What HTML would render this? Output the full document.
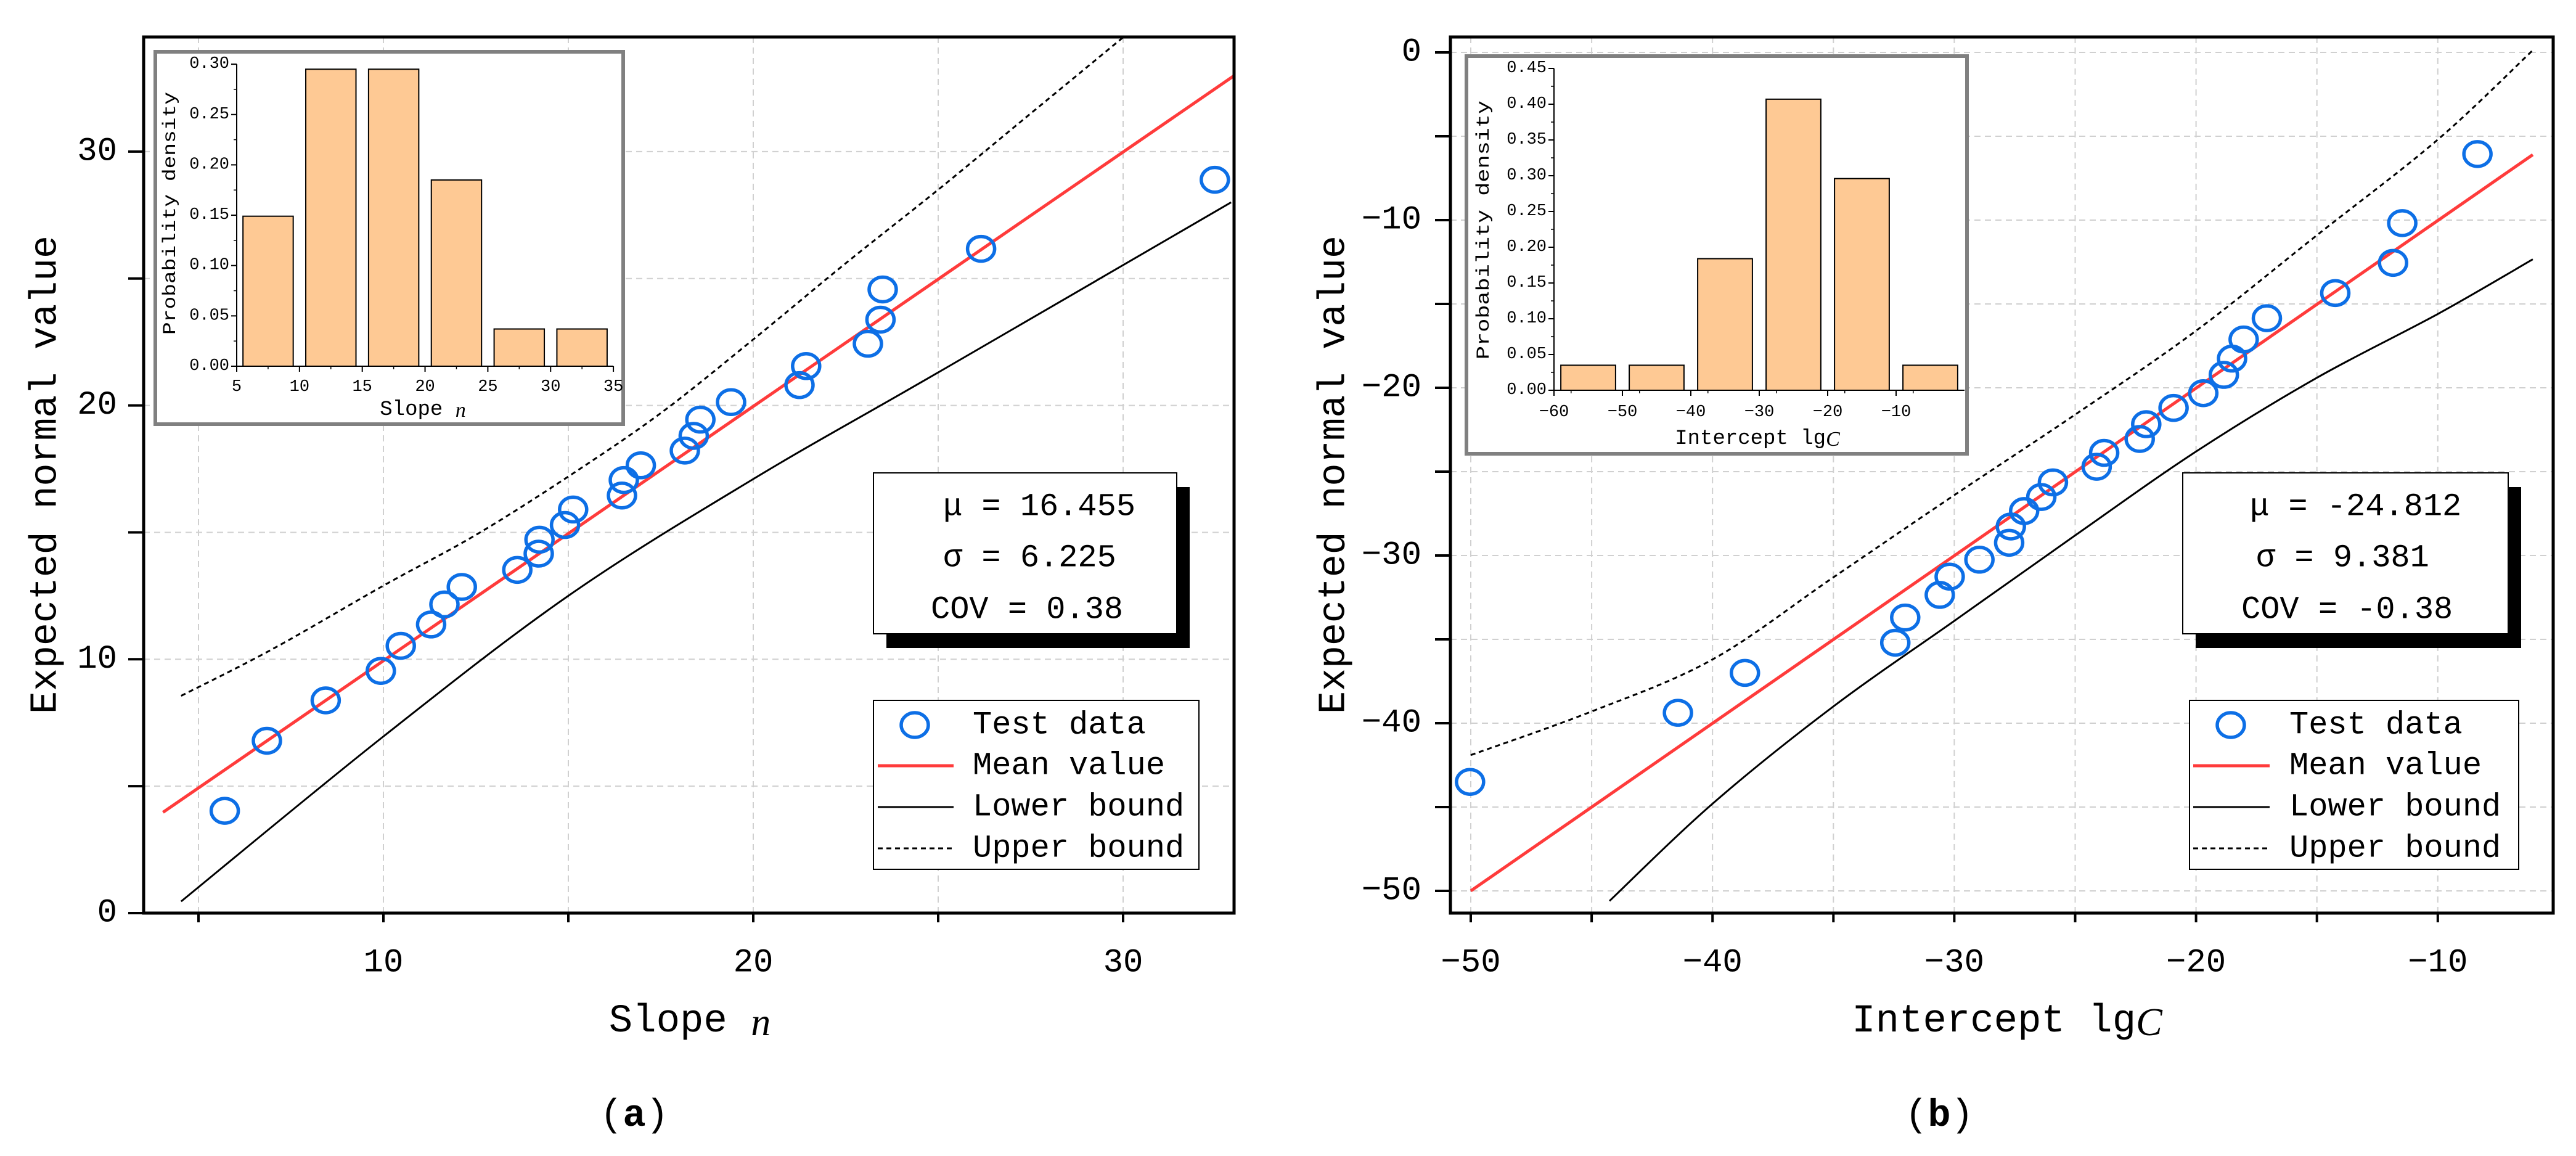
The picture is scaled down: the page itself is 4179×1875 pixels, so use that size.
<!DOCTYPE html>
<html><head><meta charset="utf-8"><style>
html,body{margin:0;padding:0;background:#fff;}
svg{display:block;}
text{font-family:"Liberation Mono",monospace;fill:#000;}
</style></head><body>
<svg id="fig" width="4179" height="1875" viewBox="0 0 4179 1875" xmlns="http://www.w3.org/2000/svg"></svg>
<script>
// ---------- Panel (a) data ----------
const aTestX = [5.71,6.85,8.44,9.93,10.47,11.29,11.65,12.12,13.62,14.20,14.22,14.91,15.13,16.45,16.50,16.96,18.15,18.39,18.57,19.40,21.25,21.43,23.10,23.44,23.50,26.16,32.48];
const aTestY = [4.03,6.79,8.38,9.54,10.53,11.37,12.16,12.85,13.52,14.16,14.71,15.29,15.90,16.45,17.06,17.64,18.22,18.80,19.44,20.13,20.80,21.55,22.43,23.38,24.57,26.17,28.89];
const aMeanX = [4.04,32.99];
const aMeanY = [3.97,32.98];
const aLowX = [4.53,10,15,20,25,32.92];
const aLowY = [0.46,6.96,12.5,17.1,21.3,28.0];
const aUpX = [4.53,7,10,12.5,15,17.5,20,22.5,25,27.5,30];
const aUpY = [8.56,10.4,12.9,14.9,17.2,19.7,22.6,25.6,28.5,31.5,34.5];
const aHistEdges = [5,10,15,20,25,30,35];
const aHistVals = [0.149,0.295,0.295,0.185,0.037,0.037];
const aXTicks = [10,20,30];
const aYTicks = [0,10,20,30];
const aHistYTicks = ["0.00","0.05","0.10","0.15","0.20","0.25","0.30"];
const aHistXTicks = [5,10,15,20,25,30,35];
const aStats = ["μ = 16.455","σ = 6.225","COV = 0.38"];

// ---------- Panel (b) data ----------
const bTestX = [-50.03,-41.43,-38.66,-32.44,-32.03,-30.60,-30.19,-28.96,-27.73,-27.66,-27.11,-26.40,-25.92,-24.11,-23.80,-22.33,-22.06,-20.93,-19.70,-18.85,-18.51,-18.03,-17.07,-14.24,-11.85,-11.47,-8.36];
const bTestY = [-43.5,-39.38,-37.0,-35.2,-33.7,-32.35,-31.26,-30.25,-29.24,-28.27,-27.35,-26.51,-25.64,-24.71,-23.88,-23.05,-22.17,-21.20,-20.32,-19.23,-18.26,-17.12,-15.85,-14.35,-12.55,-10.18,-6.06];
const bMeanX = [-50,-6.07];
const bMeanY = [-50,-6.1];
const bLowX = [-44.26,-40,-35,-30,-25,-20,-15,-10,-6.07];
const bLowY = [-50.6,-44.8,-39.0,-33.9,-28.8,-23.8,-19.4,-15.6,-12.34];
const bUpX = [-50,-45,-40,-35,-30,-25,-20,-15,-10,-6.07];
const bUpY = [-41.9,-39.3,-36.2,-31.3,-26.4,-21.6,-16.6,-10.9,-5.2,0.13];
const bHistEdges = [-60,-50,-40,-30,-20,-10,0];
const bHistVals = [0.035,0.035,0.184,0.407,0.296,0.035];
const bXTicks = [-50,-40,-30,-20,-10];
const bYTicks = [0,-10,-20,-30,-40,-50];
const bHistYTicks = ["0.00","0.05","0.10","0.15","0.20","0.25","0.30","0.35","0.40","0.45"];
const bHistXTicks = [-60,-50,-40,-30,-20,-10];
const bStats = ["μ = -24.812","σ = 9.381","COV = -0.38"];

const NS = "http://www.w3.org/2000/svg";
const svg = document.getElementById('fig');
function mk(tag, attrs, parent){
  const e = document.createElementNS(NS, tag);
  for (const k in attrs) e.setAttribute(k, attrs[k]);
  (parent||svg).appendChild(e);
  return e;
}
function txt(s, x, y, size, anchor, parent, extra){
  const t = mk('text', Object.assign({x:x, y:y, 'font-size':size, 'text-anchor':anchor||'middle', 'dominant-baseline':'central'}, extra||{}), parent);
  t.textContent = s;
  return t;
}
function smoothPath(pts){
  let d = 'M' + pts[0][0].toFixed(1) + ',' + pts[0][1].toFixed(1);
  for (let i = 0; i < pts.length - 1; i++) {
    const p0 = pts[Math.max(0,i-1)], p1 = pts[i], p2 = pts[i+1], p3 = pts[Math.min(pts.length-1,i+2)];
    const c1x = p1[0] + (p2[0]-p0[0])/6, c1y = p1[1] + (p2[1]-p0[1])/6;
    const c2x = p2[0] - (p3[0]-p1[0])/6, c2y = p2[1] - (p3[1]-p1[1])/6;
    d += ' C' + c1x.toFixed(1)+','+c1y.toFixed(1)+' '+c2x.toFixed(1)+','+c2y.toFixed(1)+' '+p2[0].toFixed(1)+','+p2[1].toFixed(1);
  }
  return d;
}

function panel(P){
  const g = mk('g', {});
  
  
  const xs = v => P.x0px + (v - P.x0v) * P.xk;
  const ys = v => P.y0px - (v - P.y0v) * P.yk;
  const grid = mk('g', {}, g);
  
  
  for (let v = P.gx[0]; v <= P.gx[1]; v += 5) {
    mk('line', {x1:xs(v), x2:xs(v), y1:P.fy1, y2:P.fy2, stroke:'#d0d0d0', 'stroke-width':2, 'stroke-dasharray':'10,7'}, grid);
  }
  for (let v = P.gy[0]; v <= P.gy[1]; v += 5) {
    mk('line', {x1:P.fx1, x2:P.fx2, y1:ys(v), y2:ys(v), stroke:'#d0d0d0', 'stroke-width':2, 'stroke-dasharray':'10,7'}, grid);
  }
  const cid = P.name + '-clip';
  const cp = mk('clipPath', {id:cid}, g);
  mk('rect', {x:P.fx1, y:P.fy1, width:P.fx2-P.fx1, height:P.fy2-P.fy1}, cp);
  const series = mk('g', {'clip-path':'url(#'+cid+')'}, g);
  const pts = (X, Y) => X.map((v,i)=>[xs(v), ys(Y[i])]);
  const up = mk('path', {d:smoothPath(pts(P.upX,P.upY)), fill:'none', stroke:'#000', 'stroke-width':3, 'stroke-dasharray':'8,6'}, series);
  
  
  const lo = mk('path', {d:smoothPath(pts(P.lowX,P.lowY)), fill:'none', stroke:'#000', 'stroke-width':3}, series);
  
  
  const me = mk('path', {d:smoothPath(pts(P.meanX,P.meanY)), fill:'none', stroke:'#ff3b3b', 'stroke-width':5}, series);
  
  
  P.testX.forEach((v,i)=>{
    const c = mk('ellipse', {cx:xs(v), cy:ys(P.testY[i]), rx:22, ry:20, fill:'none', stroke:'#0d6fe6', 'stroke-width':5.5}, series);
    
    
  });
  const fr = mk('rect', {x:P.fx1, y:P.fy1, width:P.fx2-P.fx1, height:P.fy2-P.fy1, fill:'none', stroke:'#000', 'stroke-width':5}, g);
  
  
  for (let v = P.gx[0]; v <= P.gx[1]; v += 5) mk('line', {x1:xs(v), x2:xs(v), y1:P.fy2, y2:P.fy2+15, stroke:'#000', 'stroke-width':4}, g);
  for (let v = P.gy[0]-5; v <= P.gy[1]; v += 5) { if (ys(v) <= P.fy2+1 && ys(v) >= P.fy1) mk('line', {x1:P.fx1-25, x2:P.fx1, y1:ys(v), y2:ys(v), stroke:'#000', 'stroke-width':4}, g); }
  P.xTicks.forEach(v=>{
    const t = txt(String(v).replace('-','−'), xs(v), 1562, 54, 'middle', g);
    
    
  });
  P.yTicks.forEach(v=>{
    const t = txt(String(v).replace('-','−'), P.ylabRight, ys(v), 54, 'end', g);
    
    
  });
  const yt = txt('Expected normal value', 0, 0, 62, 'middle', g, {transform:'translate('+P.ytX+',770) rotate(-90)', textLength:776, lengthAdjust:'spacingAndGlyphs'});
  
  
  const xt = mk('text', {x:P.xtX, y:1657, 'font-size':64, 'text-anchor':'middle', 'dominant-baseline':'central'}, g);
  
  
  xt.appendChild(document.createTextNode(P.xtitle));
  const it = mk('tspan', {'font-style':'italic', 'font-family':'Liberation Serif, serif'}, xt);
  it.textContent = P.xitalic;
  const pt = mk('text', {x:P.capX, y:1809, 'font-size':62, 'text-anchor':'middle', 'dominant-baseline':'central', 'font-family':'Liberation Serif, serif'}, g);
  
  
  pt.appendChild(document.createTextNode('('));
  const bt = mk('tspan', {'font-weight':'bold'}, pt); bt.textContent = P.cap;
  pt.appendChild(document.createTextNode(')'));

  const sb = mk('g', {}, g);
  
  
  const S = P.stats;
  mk('rect', {x:S.x1+21, y:S.y1+23, width:S.x2-S.x1, height:S.y2-S.y1, fill:'#000'}, sb);
  mk('rect', {x:S.x1, y:S.y1, width:S.x2-S.x1, height:S.y2-S.y1, fill:'#fff', stroke:'#000', 'stroke-width':2}, sb);
  [822,905,989].forEach((y,i)=>{ const t = txt(P.statText[i], S.tx[i], y, 52, 'start', sb);   });

  const L = P.leg;
  const lg = mk('g', {}, g);
  
  
  mk('rect', {x:L.x1, y:1136, width:L.x2-L.x1, height:274, fill:'#fff', stroke:'#000', 'stroke-width':2}, lg);
  const rows = [1176,1242,1309,1376];
  const names = ['Test data','Mean value','Lower bound','Upper bound'];
  names.forEach((n,i)=>{
    const e = mk('g', {}, lg);
    
    
    if (i===0) mk('ellipse', {cx:L.mx, cy:rows[0], rx:22, ry:20, fill:'none', stroke:'#0d6fe6', 'stroke-width':5.5}, e);
    if (i===1) mk('line', {x1:L.l1, x2:L.l2, y1:rows[1], y2:rows[1], stroke:'#ff3b3b', 'stroke-width':5}, e);
    if (i===2) mk('line', {x1:L.l1, x2:L.l2, y1:rows[2], y2:rows[2], stroke:'#000', 'stroke-width':3}, e);
    if (i===3) mk('line', {x1:L.l1, x2:L.l2, y1:rows[3], y2:rows[3], stroke:'#000', 'stroke-width':3, 'stroke-dasharray':'8,6'}, e);
    txt(n, L.tx, rows[i], 52, 'start', e);
  });

  const H = P.hist;
  const ig = mk('g', {}, g);
  
  
  mk('rect', {x:H.bx1, y:H.by1, width:H.bx2-H.bx1, height:H.by2-H.by1, fill:'#fff', stroke:'#808080', 'stroke-width':6}, ig);
  const hx = v => H.ax0 + (v - H.xv0) * H.xk;
  const hy = v => H.ay0 - v * H.yk;
  P.histVals.forEach((v,i)=>{
    const a = P.histEdges[i], b = P.histEdges[i+1], w = b - a;
    const r = mk('rect', {x:hx(a+w*0.1), y:hy(v), width:(hx(b)-hx(a))*0.8, height:hy(0)-hy(v), fill:'#fec994', stroke:'#000', 'stroke-width':2}, ig);
    
    
  });
  const xLast = P.histEdges[P.histEdges.length-1];
  const xEnd = hx(xLast);
  mk('line', {x1:H.ax0, x2:xEnd, y1:hy(0), y2:hy(0), stroke:'#000', 'stroke-width':2}, ig);
  const yTop = hy(parseFloat(P.histYTicks[P.histYTicks.length-1]));
  mk('line', {x1:H.ax0, x2:H.ax0, y1:hy(0), y2:yTop, stroke:'#000', 'stroke-width':2}, ig);
  P.histYTicks.forEach((s,i)=>{
    const v = parseFloat(s);
    mk('line', {x1:H.ax0-9, x2:H.ax0, y1:hy(v), y2:hy(v), stroke:'#000', 'stroke-width':2}, ig);
    if (i < P.histYTicks.length-1) mk('line', {x1:H.ax0-5, x2:H.ax0, y1:hy(v+0.025), y2:hy(v+0.025), stroke:'#000', 'stroke-width':1.5}, ig);
    txt(s, H.ax0-12, hy(v), 27, 'end', ig);
  });
  P.histXTicks.forEach(v=>{
    mk('line', {x1:hx(v), x2:hx(v), y1:hy(0), y2:hy(0)+9, stroke:'#000', 'stroke-width':2}, ig);
    if (v + 2.5 < xLast) mk('line', {x1:hx(v+2.5), x2:hx(v+2.5), y1:hy(0), y2:hy(0)+5, stroke:'#000', 'stroke-width':1.5}, ig);
    txt(String(v).replace('-','−'), hx(v), H.xlabY, 27, 'middle', ig);
  });
  const hxT = mk('text', {x:H.xtX, y:H.xtY, 'font-size':34, 'text-anchor':'middle', 'dominant-baseline':'central'}, ig);
  hxT.appendChild(document.createTextNode(P.xtitle));
  const hi = mk('tspan', {'font-style':'italic', 'font-family':'Liberation Serif, serif'}, hxT); hi.textContent = P.xitalic;
  txt('Probability density', 0, 0, 30, 'middle', ig, {transform:'translate('+H.ytX+','+H.ytY+') rotate(-90)', textLength:H.ytLen, lengthAdjust:'spacingAndGlyphs'});
}

panel({name:'panel-a-slope', x0px:622, x0v:10, xk:60, y0px:1481, y0v:0, yk:41.17,
  fx1:233, fx2:2002, fy1:60, fy2:1481, gx:[5,30], gy:[5,30],
  testX:aTestX, testY:aTestY, meanX:aMeanX, meanY:aMeanY, lowX:aLowX, lowY:aLowY, upX:aUpX, upY:aUpY,
  xTicks:aXTicks, yTicks:aYTicks, ylabRight:190, ytX:74, xtX:1119, xtitle:'Slope ', xitalic:'n', capX:1029, cap:'a',
  stats:{x1:1417, y1:767, x2:1909, y2:1028, tx:[1530,1530,1510]}, statText:aStats,
  leg:{x1:1417, x2:1945, mx:1484, l1:1424, l2:1547, tx:1578},
  hist:{bx1:252, by1:84, bx2:1011, by2:688, ax0:384, xv0:5, xk:20.37, ay0:594, yk:1633, xlabY:628, xtX:686, xtY:665, ytX:277, ytY:346, ytLen:394},
  histEdges:aHistEdges, histVals:aHistVals, histYTicks:aHistYTicks, histXTicks:aHistXTicks
});
panel({name:'panel-b-intercept', x0px:2386, x0v:-50, xk:39.22, y0px:85, y0v:0, yk:27.2,
  fx1:2353, fx2:4142, fy1:60, fy2:1481, gx:[-50,-10], gy:[-50,0],
  testX:bTestX, testY:bTestY, meanX:bMeanX, meanY:bMeanY, lowX:bLowX, lowY:bLowY, upX:bUpX, upY:bUpY,
  xTicks:bXTicks, yTicks:bYTicks, ylabRight:2306, ytX:2164, xtX:3256, xtitle:'Intercept lg', xitalic:'C', capX:3146, cap:'b',
  stats:{x1:3541, y1:767, x2:4069, y2:1028, tx:[3650,3660,3636]}, statText:bStats,
  leg:{x1:3552, x2:4086, mx:3619, l1:3558, l2:3682, tx:3714},
  hist:{bx1:2379, by1:91, bx2:3191, by2:736, ax0:2521, xv0:-60, xk:11.1, ay0:633, yk:1160, xlabY:669, xtX:2851, xtY:712, ytX:2408, ytY:373, ytLen:420},
  histEdges:bHistEdges, histVals:bHistVals, histYTicks:bHistYTicks, histXTicks:bHistXTicks
});
</script>
</body></html>
